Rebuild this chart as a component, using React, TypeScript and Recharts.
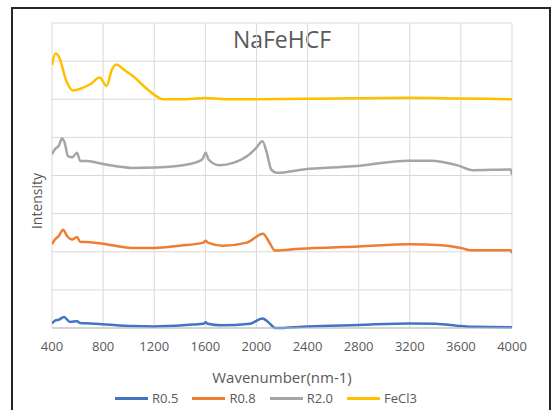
import React from 'react';
import { LineChart, Line, XAxis, YAxis, CartesianGrid } from 'recharts';

const wavenumberTicks = [400, 800, 1200, 1600, 2000, 2400, 2800, 3200, 3600, 4000];
const intensityTicks = [0, 1, 2, 3, 4, 5, 6, 7, 8];

// R0.5
const r05X = [400, 423, 455, 494, 541, 575, 596, 620, 700, 800, 1026, 1200, 1500, 1585, 1603, 1620, 1720, 1950, 2047, 2100, 2145, 2400, 2800, 3200, 3400, 3600, 3700, 4000];
const r05Y = [0.12, 0.19, 0.22, 0.29, 0.16, 0.17, 0.18, 0.13, 0.12, 0.1, 0.05, 0.04, 0.09, 0.11, 0.15, 0.11, 0.07, 0.11, 0.25, 0.13, 0.0, 0.04, 0.08, 0.12, 0.11, 0.05, 0.03, 0.02];

// R0.8
const r08X = [400, 423, 455, 486, 520, 557, 596, 620, 700, 800, 1026, 1200, 1402, 1585, 1603, 1620, 1738, 1926, 2051, 2100, 2145, 2340, 2800, 3200, 3450, 3600, 3680, 3990, 4000];
const r08Y = [2.2, 2.32, 2.42, 2.58, 2.4, 2.32, 2.39, 2.26, 2.25, 2.21, 2.1, 2.1, 2.16, 2.24, 2.29, 2.24, 2.16, 2.24, 2.47, 2.25, 2.03, 2.08, 2.14, 2.2, 2.17, 2.1, 2.04, 2.04, 1.96];

// R2.0
const r20X = [400, 423, 455, 478, 500, 525, 560, 596, 620, 675, 800, 1026, 1212, 1487, 1575, 1603, 1625, 1708, 1818, 1928, 1997, 2047, 2080, 2115, 2162, 2369, 2755, 3196, 3361, 3581, 3691, 3990, 4000];
const r20Y = [4.56, 4.69, 4.79, 4.97, 4.85, 4.51, 4.48, 4.6, 4.38, 4.38, 4.3, 4.2, 4.21, 4.31, 4.42, 4.6, 4.42, 4.27, 4.33, 4.51, 4.72, 4.9, 4.61, 4.16, 4.07, 4.16, 4.24, 4.39, 4.39, 4.26, 4.14, 4.16, 4.02];

// FeCl3
const fecl3X = [400, 427, 455, 510, 565, 634, 703, 772, 827, 868, 903, 965, 1047, 1130, 1213, 1268, 1400, 1603, 1800, 2400, 3200, 3600, 4000];
const fecl3Y = [6.9, 7.2, 7.11, 6.5, 6.23, 6.29, 6.4, 6.57, 6.35, 6.77, 6.91, 6.77, 6.57, 6.31, 6.09, 6.0, 6.0, 6.03, 6.0, 6.01, 6.04, 6.02, 6.0];

const toPoints = (xs: number[], ys: number[]) => xs.map((x, i) => ({ x, y: ys[i] }));

const series = [
  { name: 'R0.5', color: '#4472C4', data: toPoints(r05X, r05Y) },
  { name: 'R0.8', color: '#ED7D31', data: toPoints(r08X, r08Y) },
  { name: 'R2.0', color: '#A5A5A5', data: toPoints(r20X, r20Y) },
  { name: 'FeCl3', color: '#FFC000', data: toPoints(fecl3X, fecl3Y) },
];

const font = '"Open Sans", "Liberation Sans", sans-serif';
const textColor = '#595959';

export default function App() {
  return (
    <div style={{ position: 'absolute', left: 0, top: 0, width: 552, height: 410, overflow: 'hidden', background: '#fff', fontFamily: font }}>
      <div style={{ position: 'absolute', left: 11, top: 7, width: 536, height: 420, border: '2px solid #262626' }} />
      <div style={{ position: 'absolute', left: 52, width: 460, top: 23, textAlign: 'center', fontSize: 23, color: textColor }}>
        NaFeHCF
      </div>
      <div style={{ position: 'absolute', left: 36, top: 201, transform: 'translate(-50%, -50%) rotate(-90deg)', fontSize: 14, color: textColor, whiteSpace: 'nowrap' }}>
        Intensity
      </div>
      <div style={{ position: 'absolute', left: 0, top: 0 }}>
        <LineChart width={552} height={410} margin={{ top: 23, right: 40, bottom: 52, left: 52 }}>
          <CartesianGrid stroke="#d9d9d9" strokeWidth={1} />
          <XAxis
            type="number"
            dataKey="x"
            domain={[400, 4000]}
            ticks={wavenumberTicks}
            allowDataOverflow
            axisLine={{ stroke: '#bfbfbf' }}
            tickLine={false}
            tick={{ fontSize: 13, fill: textColor, fontFamily: font }}
            tickMargin={8}
          />
          <YAxis type="number" domain={[0, 8]} ticks={intensityTicks} hide />
          {series.map((s) => (
            <Line
              key={s.name}
              data={s.data}
              dataKey="y"
              name={s.name}
              type="monotone"
              stroke={s.color}
              strokeWidth={2.5}
              dot={false}
              isAnimationActive={false}
            />
          ))}
        </LineChart>
      </div>
      <div style={{ position: 'absolute', left: 52, width: 460, top: 367, textAlign: 'center', fontSize: 15, color: textColor }}>
        Wavenumber(nm-1)
      </div>
      <div style={{ position: 'absolute', left: 0, width: 552, top: 389, display: 'flex', justifyContent: 'center', paddingRight: 6, boxSizing: 'border-box', fontSize: 13, color: textColor }}>
        {series.map((s) => (
          <div key={s.name} style={{ display: 'flex', alignItems: 'center', marginRight: 14 }}>
            <span style={{ display: 'inline-block', width: 33, height: 3, background: s.color, marginRight: 4 }} />
            <span>{s.name}</span>
          </div>
        ))}
      </div>
    </div>
  );
}
